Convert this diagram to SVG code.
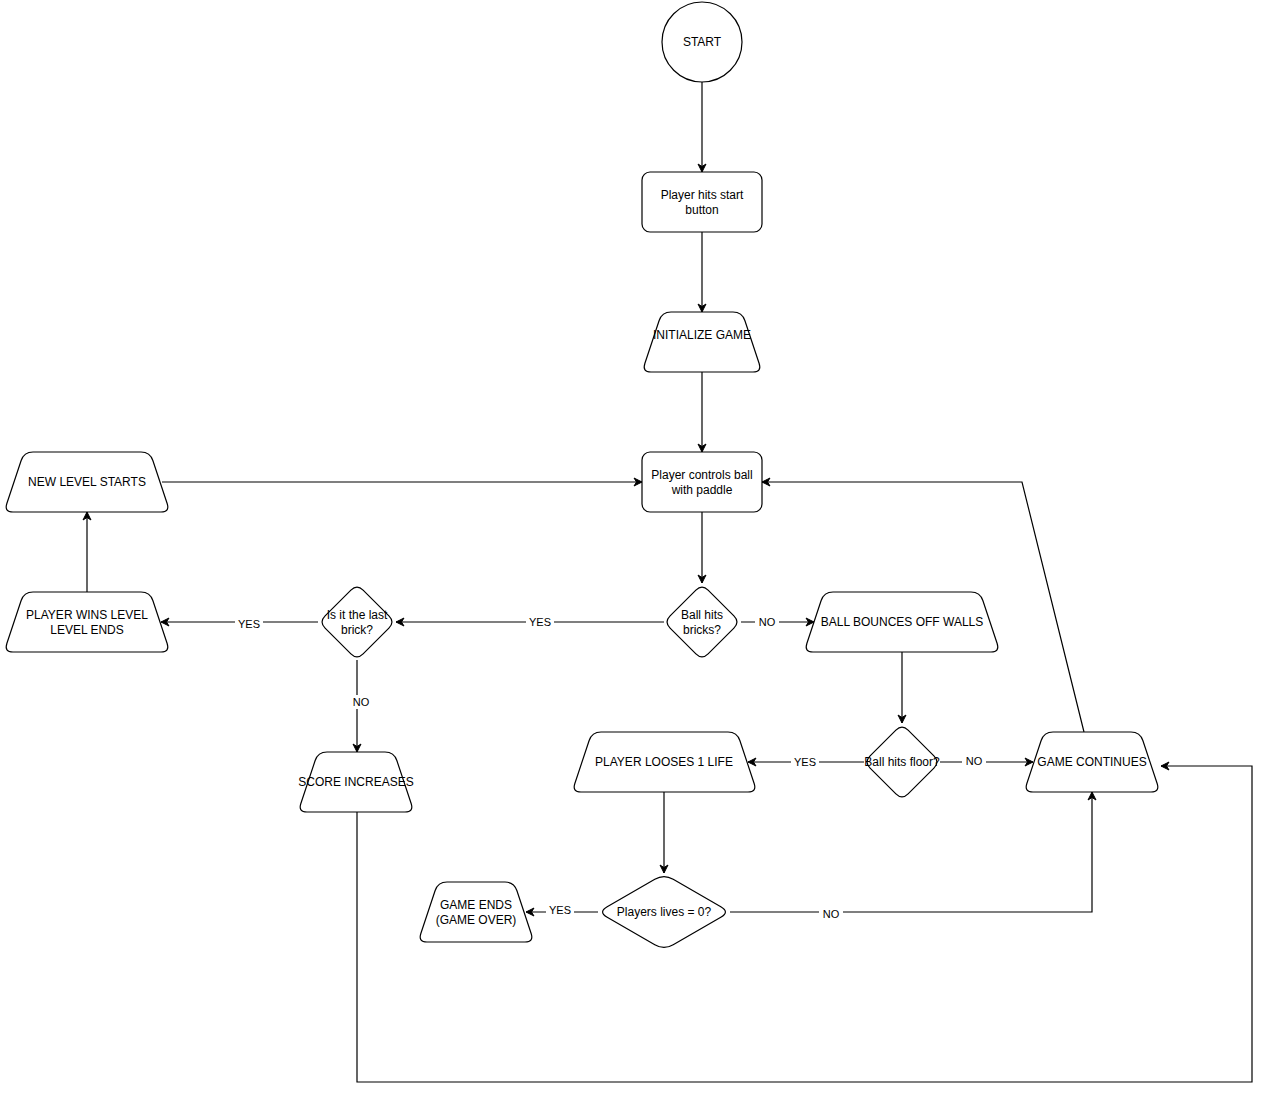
<svg xmlns="http://www.w3.org/2000/svg" width="1263" height="1093" viewBox="0 0 1263 1093">
<style>
.n{fill:#fff;stroke:#000;stroke-width:1.2}
.t{font-family:"Liberation Sans",Arial,sans-serif;font-size:12px;fill:#000;text-anchor:middle}
.e{fill:none;stroke:#000;stroke-width:1.2}
.l{font-family:"Liberation Sans",Arial,sans-serif;font-size:11px;fill:#000;text-anchor:middle}
.lb{fill:#fff}
</style>
<defs>
<marker id="a" markerWidth="10" markerHeight="10" refX="9" refY="5" orient="auto" markerUnits="userSpaceOnUse">
<path d="M1,1 L9,5 L1,9 L3.5,5 Z" fill="#000" stroke="#000" stroke-width="1"/>
</marker>
</defs>
<rect width="1263" height="1093" fill="#fff"/>
<g id="connectors">
<path class="e" d="M702,82 L702,172" marker-end="url(#a)"/>
<path class="e" d="M702,232 L702,312" marker-end="url(#a)"/>
<path class="e" d="M702,372 L702,452" marker-end="url(#a)"/>
<path class="e" d="M702,512 L702,583" marker-end="url(#a)"/>
<path class="e" d="M741,622 L814,622" marker-end="url(#a)"/>
<path class="e" d="M664,622 L396,622" marker-end="url(#a)"/>
<path class="e" d="M318,622 L161,622" marker-end="url(#a)"/>
<path class="e" d="M87,592 L87,512" marker-end="url(#a)"/>
<path class="e" d="M162,482 L642,482" marker-end="url(#a)"/>
<path class="e" d="M357,660 L357,752" marker-end="url(#a)"/>
<path class="e" d="M357,812 L357,1082 L1252,1082 L1252,766 L1161,766" marker-end="url(#a)"/>
<path class="e" d="M902,652 L902,723" marker-end="url(#a)"/>
<path class="e" d="M864,762 L748,762" marker-end="url(#a)"/>
<path class="e" d="M940,762 L1033,762" marker-end="url(#a)"/>
<path class="e" d="M664,792 L664,873" marker-end="url(#a)"/>
<path class="e" d="M598,912 L526,912" marker-end="url(#a)"/>
<path class="e" d="M730,912 L1092,912 L1092,792" marker-end="url(#a)"/>
<path class="e" d="M1084,732 L1022,482 L762,482" marker-end="url(#a)"/>
<rect class="lb" x="755" y="615" width="24" height="14"/><text class="l" x="767" y="626">NO</text>
<rect class="lb" x="526" y="615" width="28" height="14"/><text class="l" x="540" y="626">YES</text>
<rect class="lb" x="235" y="615" width="28" height="14"/><text class="l" x="249" y="628">YES</text>
<rect class="lb" x="349" y="695" width="24" height="14"/><text class="l" x="361" y="706">NO</text>
<rect class="lb" x="791" y="755" width="28" height="14"/><text class="l" x="805" y="766">YES</text>
<rect class="lb" x="962" y="755" width="24" height="14"/><text class="l" x="974" y="765">NO</text>
<rect class="lb" x="546" y="903" width="28" height="14"/><text class="l" x="560" y="914">YES</text>
<rect class="lb" x="819" y="907" width="24" height="14"/><text class="l" x="831" y="918">NO</text>
</g>
<g id="start"><circle class="n" cx="702" cy="42" r="40"/><text class="t" x="702" y="46">START</text></g>
<g id="hits-start"><rect class="n" x="642" y="172" width="120" height="60" rx="8"/><text class="t" x="702" y="199">Player hits start</text><text class="t" x="702" y="214">button</text></g>
<g id="init"><path class="n" d="M671,312 L733,312 Q742,312 744.85,320.54 L759.15,363.46 Q762,372 753,372 L651,372 Q642,372 644.85,363.46 L659.15,320.54 Q662,312 671,312 Z"/><text class="t" x="702" y="339">INITIALIZE GAME</text></g>
<g id="controls"><rect class="n" x="642" y="452" width="120" height="60" rx="8"/><text class="t" x="702" y="479">Player controls ball</text><text class="t" x="702" y="494">with paddle</text></g>
<g id="new-level"><path class="n" d="M33,452 L141,452 Q150,452 152.85,460.54 L167.15,503.46 Q170,512 161,512 L13,512 Q4,512 6.85,503.46 L21.15,460.54 Q24,452 33,452 Z"/><text class="t" x="87" y="486">NEW LEVEL STARTS</text></g>
<g id="wins"><path class="n" d="M33,592 L141,592 Q150,592 152.85,600.54 L167.15,643.46 Q170,652 161,652 L13,652 Q4,652 6.85,643.46 L21.15,600.54 Q24,592 33,592 Z"/><text class="t" x="87" y="619">PLAYER WINS LEVEL</text><text class="t" x="87" y="634">LEVEL ENDS</text></g>
<g id="last-brick"><path class="n" d="M350.9,590.1 Q357,584 363.1,590.1 L388.9,615.9 Q395,622 388.9,628.1 L363.1,653.9 Q357,660 350.9,653.9 L325.1,628.1 Q319,622 325.1,615.9 Z"/><text class="t" x="357" y="619">Is it the last</text><text class="t" x="357" y="634">brick?</text></g>
<g id="bricks"><path class="n" d="M695.9,590.1 Q702,584 708.1,590.1 L733.9,615.9 Q740,622 733.9,628.1 L708.1,653.9 Q702,660 695.9,653.9 L670.1,628.1 Q664,622 670.1,615.9 Z"/><text class="t" x="702" y="619">Ball hits</text><text class="t" x="702" y="634">bricks?</text></g>
<g id="bounces"><path class="n" d="M833,592 L971,592 Q980,592 982.85,600.54 L997.15,643.46 Q1000,652 991,652 L813,652 Q804,652 806.85,643.46 L821.15,600.54 Q824,592 833,592 Z"/><text class="t" x="902" y="626">BALL BOUNCES OFF WALLS</text></g>
<g id="score"><path class="n" d="M327,752 L385,752 Q394,752 396.85,760.54 L411.15,803.46 Q414,812 405,812 L307,812 Q298,812 300.85,803.46 L315.15,760.54 Q318,752 327,752 Z"/><text class="t" x="356" y="786">SCORE INCREASES</text></g>
<g id="floor"><path class="n" d="M895.9,730.1 Q902,724 908.1,730.1 L933.9,755.9 Q940,762 933.9,768.1 L908.1,793.9 Q902,800 895.9,793.9 L870.1,768.1 Q864,762 870.1,755.9 Z"/><text class="t" x="902" y="766">Ball hits floor?</text></g>
<g id="looses"><path class="n" d="M601,732 L728,732 Q737,732 739.85,740.54 L754.15,783.46 Q757,792 748,792 L581,792 Q572,792 574.85,783.46 L589.15,740.54 Q592,732 601,732 Z"/><text class="t" x="664" y="766">PLAYER LOOSES 1 LIFE</text></g>
<g id="continues"><path class="n" d="M1053,732 L1131,732 Q1140,732 1142.85,740.54 L1157.15,783.46 Q1160,792 1151,792 L1033,792 Q1024,792 1026.85,783.46 L1041.15,740.54 Q1044,732 1053,732 Z"/><text class="t" x="1092" y="766">GAME CONTINUES</text></g>
<g id="lives"><path class="n" d="M654.8,879.3 Q664,874 673.2,879.3 L720.8,906.7 Q730,912 720.8,917.3 L673.2,944.7 Q664,950 654.8,944.7 L607.2,917.3 Q598,912 607.2,906.7 Z"/><text class="t" x="664" y="916">Players lives = 0?</text></g>
<g id="game-ends"><path class="n" d="M447,882 L505,882 Q514,882 516.85,890.54 L531.15,933.46 Q534,942 525,942 L427,942 Q418,942 420.85,933.46 L435.15,890.54 Q438,882 447,882 Z"/><text class="t" x="476" y="909">GAME ENDS</text><text class="t" x="476" y="924">(GAME OVER)</text></g>
</svg>
